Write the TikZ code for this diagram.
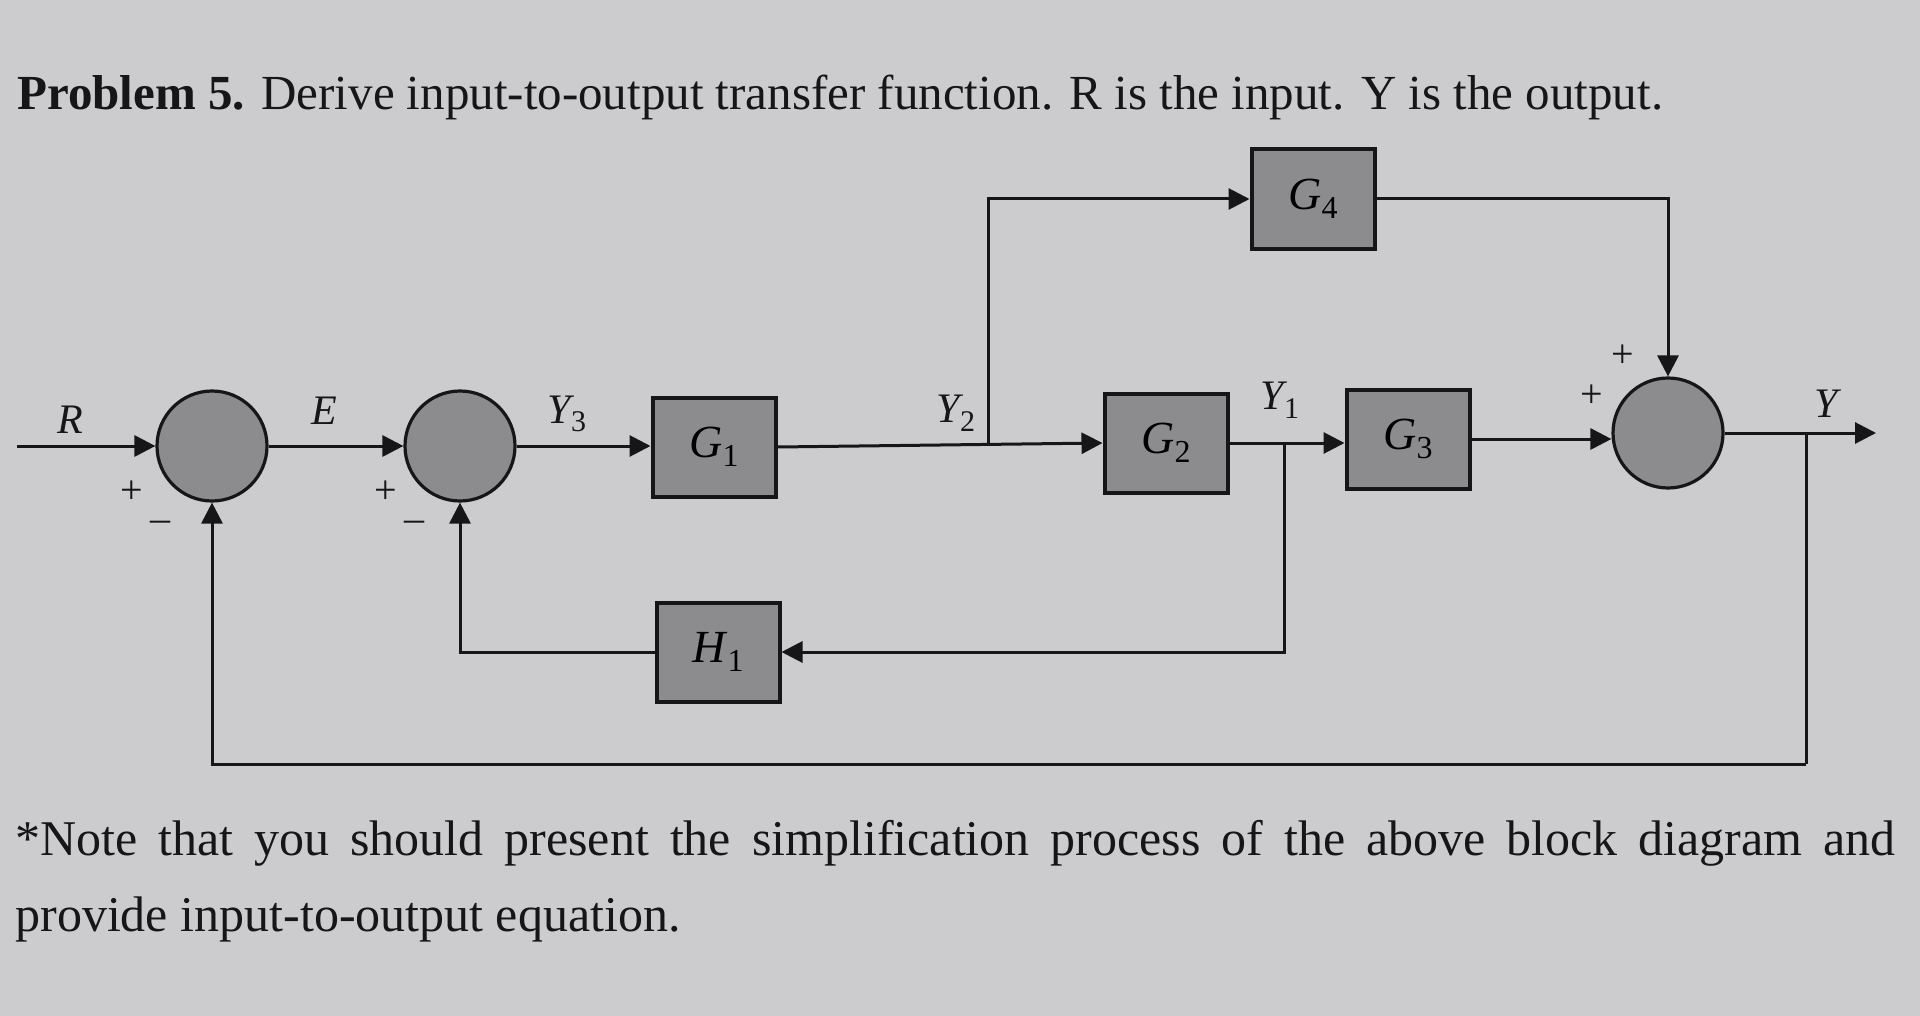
\documentclass[tikz,border=0pt]{standalone}
\usepackage{fontspec}
\setmainfont{Liberation Serif}
\usetikzlibrary{arrows.meta,calc}
\definecolor{bg}{RGB}{204,204,206}
\definecolor{blk}{RGB}{140,140,142}
\definecolor{ink}{RGB}{22,22,24}
\tikzset{
 blockbox/.style={draw=ink, line width=2pt, fill=blk, minimum width=61.5pt, minimum height=49.5pt, inner sep=0pt, font=\fontsize{23}{25}\selectfont},
 sumnode/.style={circle, draw=ink, line width=1.6pt, fill=blk, minimum size=55pt, inner sep=0pt},
 sig/.style={draw=ink, line width=1.5pt},
 arr/.style={sig, -{Triangle[length=10.5pt,width=10.5pt]}},
 lab/.style={font=\fontsize{21}{23}\selectfont, text=ink, inner sep=0pt},
 sgn/.style={font=\fontsize{20}{22}\selectfont, text=ink, inner sep=0pt},
 titlestyle/.style={font=\fontsize{24.5}{28}\selectfont, text=ink, inner sep=0pt},
 para/.style={font=\fontsize{25}{38}\selectfont, text=ink, inner sep=0pt},
}
\newcommand\bsub[2]{\textit{#1}\raisebox{-0.45ex}{\fontsize{16}{17}\selectfont #2}}
\newcommand\lsub[2]{\textit{#1}\kern-2pt\raisebox{-0.45ex}{\fontsize{15}{16}\selectfont #2}}
\begin{document}
\begin{tikzpicture}[x=0.5pt,y=-0.5pt]
\fill[bg] (0,0) rectangle (1920,1016);
\useasboundingbox (0,0) rectangle (1920,1016);
% title
\node[titlestyle, anchor=base west] (title) at (17,110) {\textbf{Problem 5.} Derive input-to-output transfer function. R is the input. Y is the output.};
% blocks
\node[sumnode] (s1) at (212,446) {};
\node[sumnode] (s2) at (460,446) {};
\node[blockbox] (g1) at (714,447) {\bsub{G}{1}};
\node[blockbox] (g2) at (1166,443) {\bsub{G}{2}};
\node[blockbox] (g3) at (1408,439) {\bsub{G}{3}};
\node[blockbox] (g4) at (1313,199) {\bsub{G}{4}};
\node[blockbox] (h1) at (718,652) {\bsub{H}{1}};
\node[sumnode] (s3) at (1668,433) {};
% coordinates
\coordinate (rin) at (17,446);
\coordinate (b2) at (988,444);
\coordinate (b1) at (1284,443);
\coordinate (b3) at (1806,433);
\coordinate (c3) at (1806,764);
\coordinate (yout) at (1876,433);
% forward path
\draw[arr] (rin) -- (s1.west);
\draw[arr] (s1.east) -- (s2.west);
\draw[arr] (s2.east) -- (s2.east -| g1.west);
\draw[arr] (g1.east) -- (g2.west);
\draw[arr] (g2.east) -- (g2.east -| g3.west);
\draw[arr] (g3.east) -- (g3.east -| s3.west);
\draw[arr] (s3.east) -- (yout);
% feedforward via G4
\draw[arr] (b2) |- (g4.west);
\draw[arr] (g4.east) -| (s3.north);
% H1 loop
\draw[arr] (b1) |- (h1.east);
\draw[arr] (h1.west) -| (s2.south);
% unity feedback
\draw[sig] (b3) -- (c3);
\draw[arr] (c3) -| (s1.south);
% signal labels
\node[lab] (lR) at (70,420) {\textit{R}};
\node[lab] (lE) at (324,411) {\textit{E}};
\node[lab] (lY3) at (567,414) {\lsub{Y}{3}};
\node[lab] (lY2) at (956,413) {\lsub{Y}{2}};
\node[lab] (lY1) at (1280,400) {\lsub{Y}{1}};
\node[lab] (lY) at (1828,404) {\textit{Y}};
% signs
\node[sgn] (p1) at (132,492) {+};
\node[sgn] (m1) at (160,526) {\textendash};
\node[sgn] (p2) at (386,492) {+};
\node[sgn] (m2) at (414,526) {\textendash};
\node[sgn] (p3) at (1623,356) {+};
\node[sgn] (p4) at (1592,396) {+};
% note
\node[para, anchor=north west, text width=940pt, align=justify] (note) at (15,820) {*Note that you should present the simplification process of the above block diagram and\linebreak provide input-to-output equation.};
\end{tikzpicture}
\end{document}
